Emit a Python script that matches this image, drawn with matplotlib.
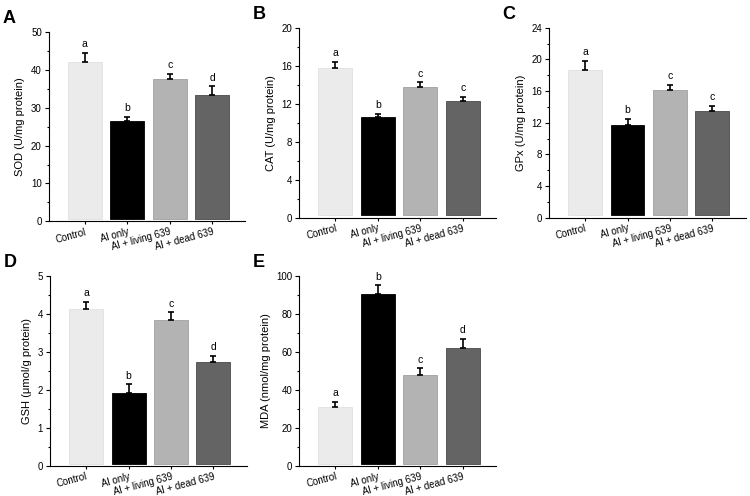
import numpy as np
from matplotlib import pyplot as plt
from matplotlib.ticker import MultipleLocator
from matplotlib.transforms import ScaledTranslation

plt.rcParams["font.family"] = ["Liberation Sans", "DejaVu Sans"]

groups = ["Control", "Al only", "Al + living 639", "Al + dead 639"]
colors = ["#ebebeb", "#000000", "#b3b3b3", "#646464"]
edges = ["#e0e0e0", "#000000", "#a0a0a0", "#4a4a4a"]

sod = [42.0, 26.6, 37.6, 33.5]
sod_err = [2.5, 1.1, 1.4, 2.2]
sod_sig = ["a", "b", "c", "d"]

cat = [15.75, 10.65, 13.75, 12.25]
cat_err = [0.65, 0.3, 0.5, 0.5]
cat_sig = ["a", "b", "c", "c"]

gpx = [18.65, 11.75, 16.2, 13.45]
gpx_err = [1.2, 0.7, 0.6, 0.65]
gpx_sig = ["a", "b", "c", "c"]

gsh = [4.13, 1.93, 3.84, 2.75]
gsh_err = [0.18, 0.22, 0.2, 0.15]
gsh_sig = ["a", "b", "c", "d"]

mda = [31.0, 90.7, 48.1, 62.1]
mda_err = [2.9, 4.4, 3.3, 4.6]
mda_sig = ["a", "b", "c", "d"]

panels = [
    ("A", sod, sod_err, sod_sig, "SOD (U/mg protein)", 50, 10, [0.065, 0.554, 0.262, 0.381]),
    ("B", cat, cat_err, cat_sig, "CAT (U/mg protein)", 20, 4, [0.399, 0.561, 0.262, 0.383]),
    ("C", gpx, gpx_err, gpx_sig, "GPx (U/mg protein)", 24, 4, [0.732, 0.561, 0.262, 0.383]),
    ("D", gsh, gsh_err, gsh_sig, "GSH (μmol/g protein)", 5, 1, [0.0667, 0.0605, 0.262, 0.383]),
    ("E", mda, mda_err, mda_sig, "MDA (nmol/mg protein)", 100, 20, [0.399, 0.0605, 0.262, 0.383]),
]

fig = plt.figure(figsize=(7.5, 4.96), dpi=100)
shift = ScaledTranslation(4 / 100, 0, fig.dpi_scale_trans)

for letter, vals, errs, sig, ylabel, ymax, step, pos in panels:
    ax = fig.add_axes(pos)
    x = np.arange(len(groups))
    off = ymax * 0.012
    ax.bar(x, np.array(vals) - off, bottom=off, width=0.8, color=colors,
           edgecolor=edges, linewidth=0.6, zorder=2)
    ax.errorbar(x, vals, yerr=[np.zeros(len(vals)), errs], fmt="none",
                ecolor="black", elinewidth=1.2, capsize=2.5, capthick=1.2, zorder=3)
    for xi, v, e, s in zip(x, vals, errs, sig):
        ax.text(xi, v + e + ymax * 0.02, s, ha="center", va="bottom", fontsize=7.5)
    ax.set_ylim(0, ymax)
    ax.set_xlim(-0.85, 3.78)
    ax.yaxis.set_major_locator(MultipleLocator(step))
    ax.yaxis.set_minor_locator(MultipleLocator(step / 2))
    ax.set_xticks(x)
    ax.set_xticklabels(groups, rotation=15, fontsize=7, ha="right",
                       rotation_mode="anchor")
    for lbl in ax.get_xticklabels():
        lbl.set_transform(lbl.get_transform() + shift)
    ax.tick_params(axis="y", labelsize=7, length=3, width=0.8, pad=2)
    ax.tick_params(axis="y", which="minor", length=1.8, width=0.8)
    ax.tick_params(axis="x", length=2.5, width=0.8, pad=1.5)
    ax.spines["top"].set_visible(False)
    ax.spines["right"].set_visible(False)
    ax.spines["left"].set_linewidth(0.8)
    ax.spines["bottom"].set_linewidth(0.8)
    ax.set_ylabel(ylabel, fontsize=8, labelpad=4)
    fig.text(pos[0] - 0.062, pos[1] + pos[3] + 0.01, letter, fontsize=13,
             fontweight="bold", ha="left", va="bottom")

plt.savefig("out.png", dpi=100)
